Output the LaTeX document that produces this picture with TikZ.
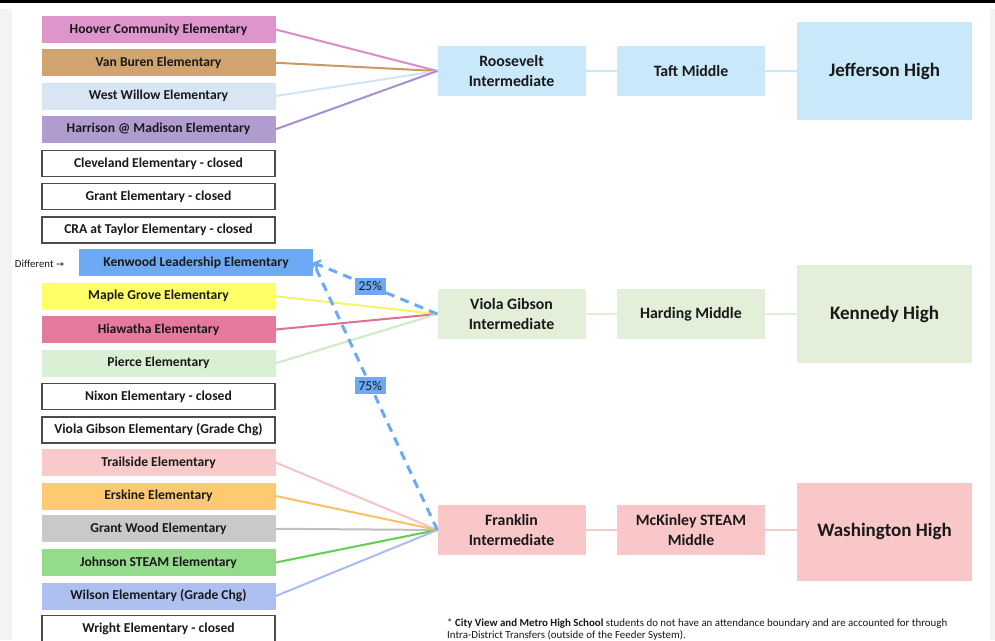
\documentclass[tikz,border=0pt]{standalone}
\usepackage{fontspec}
\setmainfont{Carlito}
\newfontfamily\dejavu{DejaVu Sans}
\usetikzlibrary{arrows.meta}
\definecolor{stripgray}{HTML}{F3F3F3}
\definecolor{hooverc}{HTML}{DE95CC}
\definecolor{hooverl}{HTML}{D98CC8}
\definecolor{vanburenc}{HTML}{D1A36E}
\definecolor{vanburenl}{HTML}{C99B5F}
\definecolor{willowc}{HTML}{D7E5F4}
\definecolor{willowl}{HTML}{D2E3F5}
\definecolor{harrisonc}{HTML}{B19CD1}
\definecolor{harrisonl}{HTML}{A88FCE}
\definecolor{kblue}{HTML}{6DAAF5}
\definecolor{maplec}{HTML}{FFFF66}
\definecolor{maplel}{HTML}{F5F56A}
\definecolor{hiawathac}{HTML}{E67A9D}
\definecolor{hiawathal}{HTML}{E0708F}
\definecolor{piercec}{HTML}{DAF0D4}
\definecolor{piercel}{HTML}{CFEAC6}
\definecolor{trailc}{HTML}{F9CACC}
\definecolor{traill}{HTML}{F7C3C5}
\definecolor{erskinec}{HTML}{FFC971}
\definecolor{erskinel}{HTML}{FFC063}
\definecolor{woodc}{HTML}{C9C9C9}
\definecolor{woodl}{HTML}{C0C0C0}
\definecolor{johnsonc}{HTML}{94DC8B}
\definecolor{johnsonl}{HTML}{5FCF50}
\definecolor{wilsonc}{HTML}{AEC0F0}
\definecolor{wilsonl}{HTML}{A8BCF0}
\definecolor{bluegrp}{HTML}{C9E9FB}
\definecolor{greengrp}{HTML}{E4EFD9}
\definecolor{redgrp}{HTML}{F9C7C8}
\begin{document}
\begin{tikzpicture}[x=1pt,y=-1pt,
  elem/.style={minimum width=234pt, minimum height=27pt, inner sep=0pt,
    font=\bfseries\fontsize{13.6}{15}\selectfont, text=black!90},
  closedbox/.style={elem, draw=black!70, line width=1.2pt, fill=white,
    minimum width=233pt, minimum height=26pt},
  inter/.style={minimum width=148pt, minimum height=50pt, inner sep=0pt,
    align=center, font=\bfseries\fontsize{15.8}{20}\selectfont, text=black!90},
  high/.style={minimum width=175pt, minimum height=98pt, inner sep=0pt,
    font=\bfseries\fontsize{19}{22}\selectfont, text=black!90},
  feed/.style={line width=2pt},
  chain/.style={line width=2.5pt},
  kdash/.style={draw=kblue, line width=3pt, dash pattern=on 9pt off 6.5pt},
  pct/.style={fill=kblue, font=\fontsize{13.5}{15}\selectfont, inner sep=0pt,
    minimum width=31pt, minimum height=17pt, text=black!90}
]
\useasboundingbox (0,0) rectangle (995,640);
\fill[white] (0,0) rectangle (995,640);
\fill[black] (0,0) rectangle (995,2.5);
\fill[stripgray] (0,9) rectangle (12,640);
\fill[stripgray] (990,9) rectangle (995,640);

% elementary schools
\node[elem, fill=hooverc]   (hoover)   at (158.5, 29.5)  {Hoover Community Elementary};
\node[elem, fill=vanburenc] (vanburen) at (158.5, 62.75) {Van Buren Elementary};
\node[elem, fill=willowc]   (willow)   at (158.5, 96)    {West Willow Elementary};
\node[elem, fill=harrisonc] (harrison) at (158.5, 129.25){Harrison @ Madison Elementary};
\node[closedbox] (cleveland) at (158.5, 163.5) {Cleveland Elementary - closed};
\node[closedbox] (grant)     at (158.5, 196.75){Grant Elementary - closed};
\node[closedbox] (cra)       at (158.5, 230)   {CRA at Taylor Elementary - closed};
\node[elem, fill=kblue]     (kenwood)  at (196, 262.5)   {Kenwood Leadership Elementary};
\node[elem, fill=maplec]    (maple)    at (158.5, 296.25){Maple Grove Elementary};
\node[elem, fill=hiawathac] (hiawatha) at (158.5, 329.5) {Hiawatha Elementary};
\node[elem, fill=piercec]   (pierce)   at (158.5, 363.25){Pierce Elementary};
\node[closedbox] (nixon)     at (158.5, 396.75){Nixon Elementary - closed};
\node[closedbox] (violaelem) at (158.5, 430)   {Viola Gibson Elementary (Grade Chg)};
\node[elem, fill=trailc]    (trail)    at (158.5, 462.5) {Trailside Elementary};
\node[elem, fill=erskinec]  (erskine)  at (158.5, 496)   {Erskine Elementary};
\node[elem, fill=woodc]     (wood)     at (158.5, 528.75){Grant Wood Elementary};
\node[elem, fill=johnsonc]  (johnson)  at (158.5, 562.5) {Johnson STEAM Elementary};
\node[elem, fill=wilsonc]   (wilson)   at (158.5, 596)   {Wilson Elementary (Grade Chg)};
\node[closedbox] (wright)    at (158.5, 628.5) {Wright Elementary - closed};

\node[font=\fontsize{10.8}{12}\selectfont, text=black!90, inner sep=0pt] (diff) at (39.5, 264)
  {Different {\dejavu\fontsize{9.5}{11}\selectfont →}};

% intermediate, middle, high
\node[inter, fill=bluegrp]  (roos)  at (511.5, 71)  {Roosevelt\\Intermediate};
\node[inter, fill=bluegrp]  (taft)  at (691, 71)    {Taft Middle};
\node[high,  fill=bluegrp]  (jeff)  at (884.5, 71)  {Jefferson High};
\node[inter, fill=greengrp] (viola) at (511.5, 314) {Viola Gibson\\Intermediate};
\node[inter, fill=greengrp] (hard)  at (691, 314)   {Harding Middle};
\node[high,  fill=greengrp] (kenn)  at (884.5, 314) {Kennedy High};
\node[inter, fill=redgrp]   (frank) at (511.5, 530) {Franklin\\Intermediate};
\node[inter, fill=redgrp]   (mck)   at (691, 530)   {McKinley STEAM\\Middle};
\node[high,  fill=redgrp]   (wash)  at (884.5, 531.5) {Washington High};

\draw[chain, draw=bluegrp]  (roos.east) -- (taft.west);
\draw[chain, draw=bluegrp]  (taft.east) -- (jeff.west |- taft.east);
\draw[chain, draw=greengrp] (viola.east) -- (hard.west);
\draw[chain, draw=greengrp] (hard.east) -- (kenn.west |- hard.east);
\draw[chain, draw=redgrp]   (frank.east) -- (mck.west);
\draw[chain, draw=redgrp]   (mck.east) -- (wash.west |- mck.east);

% feeder lines
\draw[feed, draw=hooverl]   (hoover.east)   -- (roos.west);
\draw[feed, draw=vanburenl] (vanburen.east) -- (roos.west);
\draw[feed, draw=willowl]   (willow.east)   -- (roos.west);
\draw[feed, draw=harrisonl] (harrison.east) -- (roos.west);
\draw[feed, draw=maplel]    (maple.east)    -- (viola.west);
\draw[feed, draw=hiawathal] (hiawatha.east) -- (viola.west);
\draw[feed, draw=piercel]   (pierce.east)   -- (viola.west);
\draw[feed, draw=traill]    (trail.east)    -- (frank.west);
\draw[feed, draw=erskinel]  (erskine.east)  -- (frank.west);
\draw[feed, draw=woodl]     (wood.east)     -- (frank.west);
\draw[feed, draw=johnsonl]  (johnson.east)  -- (frank.west);
\draw[feed, draw=wilsonl]   (wilson.east)   -- (frank.west);

% Kenwood split
\draw[kdash, -{Straight Barb[length=5pt,width=10pt,line width=2.2pt]}] (viola.west) -- node[pct, pos=0.54] (p25) {25\%} (kenwood.east);
\draw[kdash, -{Straight Barb[length=5pt,width=10pt,line width=2.2pt]}] (frank.west) -- node[pct, pos=0.54] (p75) {75\%} (kenwood.east);

% footnote
\node[anchor=north west, align=left, inner sep=0pt, text=black!90,
  font=\fontsize{10.9}{12.2}\selectfont] (note) at (447, 618.5)
  {* \textbf{City View and Metro High School} students do not have an attendance boundary and are accounted for through\\
   Intra-District Transfers (outside of the Feeder System).};
\end{tikzpicture}
\end{document}
